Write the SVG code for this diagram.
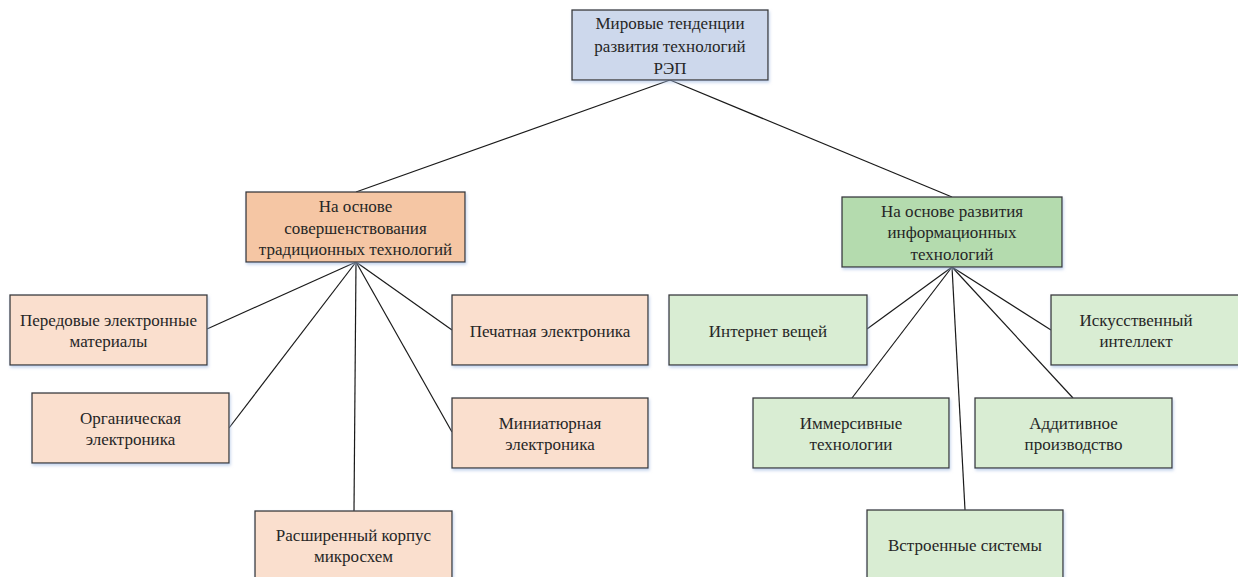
<svg xmlns="http://www.w3.org/2000/svg" width="1238" height="577" viewBox="0 0 1238 577">
<defs>
<filter id="sh" x="-10%" y="-10%" width="120%" height="130%">
<feDropShadow dx="1" dy="2" stdDeviation="1.5" flood-color="#9DB8E0" flood-opacity="0.6"/>
</filter>
<style>
rect{stroke:#3a3a3a;stroke-width:1.3;filter:url(#sh)}
.top{fill:#CDD8EC}
.lm{fill:#F5C6A4}
.lc{fill:#FADFCE}
.rm{fill:#B4DBAE}
.rc{fill:#D9EDD3}
text{font-family:"Liberation Serif","Times New Roman",serif;font-size:17px;fill:#262626;text-anchor:middle}
.conn line{stroke:#1a1a1a;stroke-width:1.2}
</style>
</defs>
<rect x="0" y="0" width="1238" height="577" fill="#ffffff" style="stroke:none;filter:none"/>
<g class="conn" id="connectors">
<line x1="670" y1="80" x2="356" y2="192"/>
<line x1="670" y1="80" x2="952" y2="197"/>
<line x1="356" y1="262" x2="207" y2="329"/>
<line x1="356" y1="262" x2="229" y2="428"/>
<line x1="356" y1="262" x2="354" y2="511"/>
<line x1="356" y1="262" x2="452" y2="432"/>
<line x1="356" y1="262" x2="452" y2="330"/>
<line x1="952" y1="267" x2="867" y2="329"/>
<line x1="952" y1="267" x2="852" y2="398"/>
<line x1="952" y1="267" x2="965" y2="510"/>
<line x1="952" y1="267" x2="1073" y2="398"/>
<line x1="952" y1="267" x2="1051" y2="330"/>
</g>
<g id="root">
<rect class="top" x="572" y="10" width="196" height="70"/>
<text x="670" y="29">Мировые тенденции</text>
<text x="670" y="51.5">развития технологий</text>
<text x="670" y="74">РЭП</text>
</g>
<g id="traditional">
<rect class="lm" x="246" y="192" width="219" height="70"/>
<text x="355.5" y="212">На основе</text>
<text x="355.5" y="233.5">совершенствования</text>
<text x="355.5" y="255">традиционных технологий</text>
</g>
<g id="info">
<rect class="rm" x="842" y="197" width="220" height="70"/>
<text x="952" y="216.5">На основе развития</text>
<text x="952" y="238">информационных</text>
<text x="952" y="259.5">технологий</text>
</g>
<g id="materials">
<rect class="lc" x="10" y="295" width="197" height="70"/>
<text x="108.5" y="326">Передовые электронные</text>
<text x="108.5" y="347">материалы</text>
</g>
<g id="organic">
<rect class="lc" x="32" y="393" width="197" height="70"/>
<text x="130.5" y="423.5">Органическая</text>
<text x="130.5" y="445">электроника</text>
</g>
<g id="package">
<rect class="lc" x="255" y="511" width="197" height="70"/>
<text x="353.5" y="540.5">Расширенный корпус</text>
<text x="353.5" y="562">микросхем</text>
</g>
<g id="miniature">
<rect class="lc" x="452" y="398" width="196" height="70"/>
<text x="550" y="428.5">Миниатюрная</text>
<text x="550" y="450">электроника</text>
</g>
<g id="printed">
<rect class="lc" x="452" y="295" width="196" height="70"/>
<text x="550" y="336.5">Печатная электроника</text>
</g>
<g id="iot">
<rect class="rc" x="669" y="295" width="198" height="70"/>
<text x="768" y="336.5">Интернет вещей</text>
</g>
<g id="immersive">
<rect class="rc" x="753" y="398" width="196" height="70"/>
<text x="851" y="428.5">Иммерсивные</text>
<text x="851" y="450">технологии</text>
</g>
<g id="embedded">
<rect class="rc" x="867" y="510" width="196" height="70"/>
<text x="965" y="551">Встроенные системы</text>
</g>
<g id="additive">
<rect class="rc" x="975" y="398" width="197" height="70"/>
<text x="1073.5" y="428.5">Аддитивное</text>
<text x="1073.5" y="450">производство</text>
</g>
<g id="ai">
<rect class="rc" x="1051" y="295" width="196" height="70"/>
<text x="1136" y="326">Искусственный</text>
<text x="1136" y="347">интеллект</text>
</g>
</svg>
